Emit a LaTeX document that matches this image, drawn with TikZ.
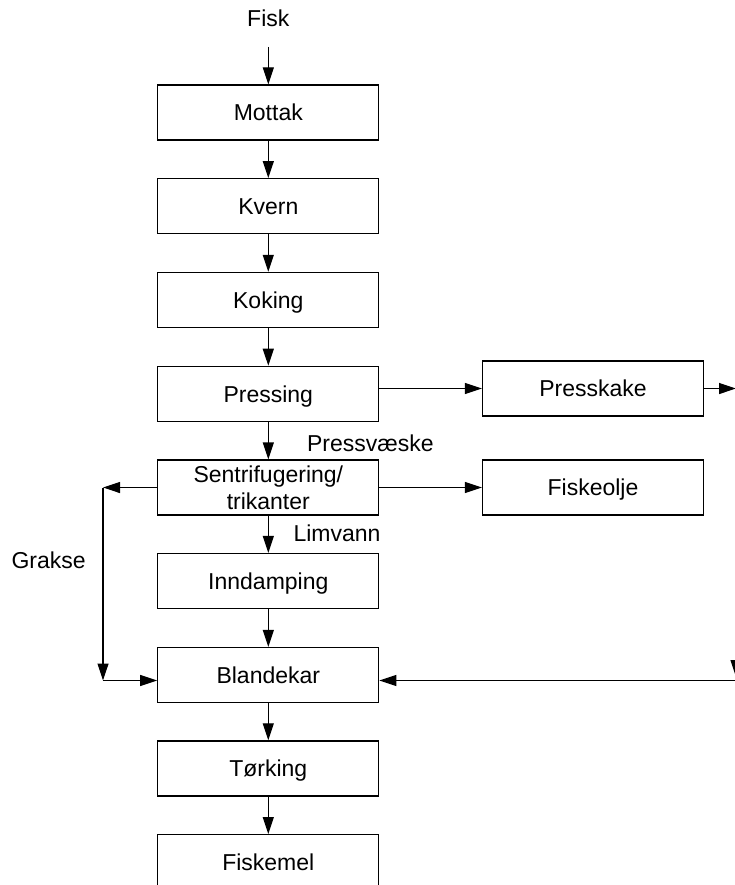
\documentclass[tikz,border=0pt]{standalone}
\usepackage{fontspec}
\setmainfont{Liberation Sans}
\usetikzlibrary{arrows.meta}
\begin{document}
\begin{tikzpicture}[x=1pt,y=-1pt,
  line width=1.2pt,
  >={Triangle[length=17pt,width=11pt]},
  every node/.style={font=\fontsize{23}{27}\selectfont},
  boxbase/.style={draw, minimum width=221pt, minimum height=55pt, inner sep=0pt},
  stepbox/.style={boxbase, text height=16.5pt, text depth=0pt},
  twoline/.style={boxbase, align=center},
  flow/.style={->},
  tag/.style={anchor=base west, inner sep=0pt},
]
\useasboundingbox (0,0) rectangle (735,885);
\clip (0,0) rectangle (735,885);

% main process column
\node[stepbox] (mottak)   at (268.3,112.5) {Mottak};
\node[stepbox] (kvern)    at (268.3,206.2) {Kvern};
\node[stepbox] (koking)   at (268.3,299.9) {Koking};
\node[stepbox] (pressing) at (268.3,393.8) {Pressing};
\node[twoline] (sentri)   at (268.3,487.5) {Sentrifugering/\\trikanter};
\node[stepbox] (inndamp)  at (268.3,581.0) {Inndamping};
\node[stepbox] (blande)   at (268.3,675.0) {Blandekar};
\node[stepbox] (torking)  at (268.3,768.4) {Tørking};
\node[stepbox] (fiskemel) at (268.3,862.1) {Fiskemel};

% side products
\node[stepbox] (presskake) at (593,388.5) {Presskake};
\node[stepbox] (fiskeolje) at (593,487.5) {Fiskeolje};

% stream labels
\node[anchor=base, inner sep=0pt] (fisk) at (268.3,27) {Fisk};
\node[tag] (pressvaeske) at (306.5,451) {Pressvæske};
\node[tag] (limvann)     at (293,541.7) {Limvann};
\node[tag] (grakse)      at (11,568)    {Grakse};

% helper points
\coordinate (fiskin) at (268.3,47);
\coordinate (gtop)   at (103,487.5);
\coordinate (gbot)   at (103,680.5);
\coordinate (pkout)  at (736,388.5);
\coordinate (rtop)   at (736,600);
\coordinate (rdown)  at (736,677);
\coordinate (rin)    at (736,680.5);

% main flow
\draw[flow] (fiskin) -- (mottak);
\draw[flow] (mottak) -- (kvern);
\draw[flow] (kvern) -- (koking);
\draw[flow] (koking) -- (pressing);
\draw[flow] (pressing) -- (sentri);
\draw[flow] (sentri) -- (inndamp);
\draw[flow] (inndamp) -- (blande);
\draw[flow] (blande) -- (torking);
\draw[flow] (torking) -- (fiskemel);

% branches to the right
\draw[flow] (pressing.east |- presskake) -- (presskake.west);
\draw[flow] (presskake.east) -- (pkout);
\draw[flow] (sentri.east) -- (fiskeolje.west);

% grakse loop on the left
\draw[flow] (sentri.west) -- (gtop);
\draw[flow] (gtop) -- (gbot);
\draw[flow] (gbot) -- (blande.west |- gbot);

% return line from the right
\draw[flow] (rtop) -- (rdown);
\draw[flow] (rin) -- (blande.east |- rin);
\end{tikzpicture}
\end{document}
